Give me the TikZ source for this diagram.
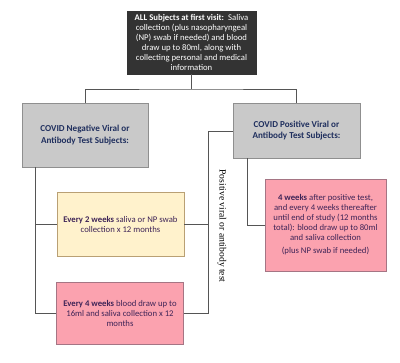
\documentclass[tikz,border=0pt]{standalone}
\usepackage{fontspec}
\setmainfont{Carlito}
\newfontfamily\serifnote{Liberation Serif}
\definecolor{topgray}{HTML}{333333}
\definecolor{boxgray}{HTML}{C9C9C9}
\definecolor{edgegray}{HTML}{8F8F8F}
\definecolor{navy}{HTML}{1F2F5E}
\definecolor{paleyellow}{HTML}{FFF2CC}
\definecolor{yellowedge}{HTML}{B9A074}
\definecolor{rose}{HTML}{FBA2AF}
\definecolor{roseedge}{HTML}{A57584}
\definecolor{plum}{HTML}{3E2457}
\definecolor{linegray}{HTML}{555555}

\begin{document}
\begin{tikzpicture}[x=1pt, y=-1pt,
  font=\fontsize{8.7}{10}\selectfont,
  panel/.style={draw, line width=0.8pt, align=center, inner sep=0pt},
  group/.style={panel, draw=edgegray, fill=boxgray, text=navy, font=\fontsize{9.1}{11.5}\selectfont\bfseries},
  visit/.style={panel, text=plum},
  link/.style={draw=linegray, line width=0.8pt}
]
  \useasboundingbox (0,0) rectangle (400,363);

  \node[panel, draw=topgray, fill=topgray, text=white, minimum width=129, minimum height=63] (intake) at (191.5,42.5)
    {\textbf{ALL Subjects at first visit:}\, Saliva\\collection (plus nasopharyngeal\\(NP) swab if needed) and blood\\draw up to 80ml, along with\\collecting personal and medical\\information};

  \node[group, minimum width=126, minimum height=64] (neg) at (85,135)
    {COVID Negative Viral or\\Antibody Test Subjects:};
  \node[group, minimum width=127, minimum height=55] (pos) at (296.5,130.5)
    {COVID Positive Viral or\\Antibody Test Subjects:};

  \node[visit, draw=yellowedge, fill=paleyellow, minimum width=127, minimum height=64] (every2) at (120.5,224)
    {\textbf{Every 2 weeks} saliva or NP swab\\collection x 12 months};
  \node[visit, draw=roseedge, fill=rose, minimum width=127, minimum height=62] (every4) at (120,313)
    {\textbf{Every 4 weeks} blood draw up to\\16ml and saliva collection x 12\\months};
  \node[visit, draw=roseedge, fill=rose, minimum width=121, minimum height=92] (later) at (325.5,225)
    {\textbf{4 weeks} after positive test,\\and every 4 weeks thereafter\\until end of study (12 months\\total): blood draw up to 80ml\\and saliva collection\\[3pt](plus NP swab if needed)};

  \node[rotate=-90, font=\serifnote\fontsize{9.6}{11}\selectfont] (switch) at (222,226)
    {Positive viral or antibody test};

  % split below the first visit
  \coordinate (hub) at (191.5,89);
  \draw[link] (intake.south) -- (hub);
  \draw[link] (neg.north) |- (hub) -| (pos.north);

  % negative branch
  \coordinate (lrail) at (35,0);
  \draw[link] (neg.south -| lrail) |- (every2.west);
  \draw[link] (neg.south -| lrail) |- (every4.west);

  % conversion to positive
  \coordinate (rrail) at (208,131);
  \draw[link] (every2.east) -| (rrail) -- (rrail -| pos.west);
  \draw[link] (every4.east) -| (rrail);

  % positive branch
  \coordinate (prail) at (247,0);
  \draw[link] (pos.south -| prail) |- (later.west);
\end{tikzpicture}
\end{document}
